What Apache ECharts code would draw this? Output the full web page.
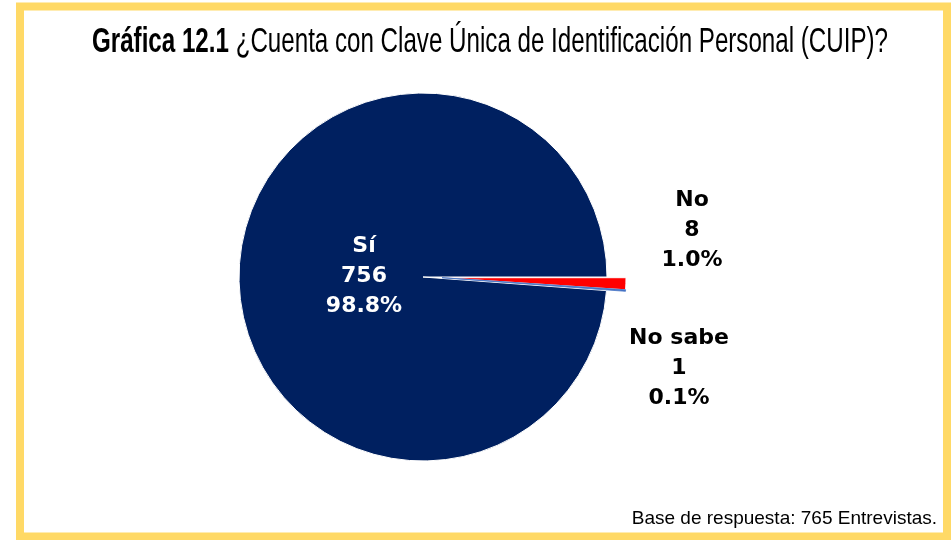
<!DOCTYPE html>
<html>
<head>
<meta charset="utf-8">
<script src="https://cdn.jsdelivr.net/npm/echarts@6/dist/echarts.min.js"></script>
<style>
  html, body { margin: 0; padding: 0; background: #fff; }
  #main { width: 951px; height: 540px; }
</style>
</head>
<body>
<div id="main"></div>
<script>
// datos de la gráfica
var categorias = ['Sí', 'No', 'No sabe'];
var valores = [756, 8, 1];
var colores = ['#002060', '#FF0000', '#4472C4'];
var total = 765;

var chart = echarts.init(document.getElementById('main'), null, { renderer: 'canvas' });

// posiciones de las etiquetas
var posEtiquetas = [[364, 276], [692, 230], [679, 368]];

function etiqueta(p) {
    return p.name + '\n' + p.value + '\n' + (p.value / total * 100).toFixed(1) + '%';
}

// serie base (Sí) y serie separada (No, No sabe)
function armarDatos(separadas) {
    var datos = [];
    for (var i = 0; i < categorias.length; i++) {
        var visible = separadas ? i > 0 : i === 0;
        var borde = 'rgba(0,0,0,0)';
        if (visible) borde = i === 2 ? colores[i] : '#fff';
        datos.push({
            name: categorias[i],
            value: valores[i],
            itemStyle: {
                color: visible ? colores[i] : 'rgba(0,0,0,0)',
                borderColor: borde,
                borderWidth: visible ? (i === 2 ? 0.8 : 1) : 0
            },
            label: {
                show: visible,
                color: i === 0 ? '#fff' : '#000'
            }
        });
    }
    return datos;
}

var serieBase = {
    type: 'pie',
    radius: 184,
    startAngle: -4.24,
    clockwise: true,
    silent: true,
    emphasis: { disabled: true },
    label: {
        position: 'inside',
        align: 'center',
        verticalAlign: 'middle',
        fontFamily: 'DejaVu Sans',
        fontWeight: 'bold',
        fontSize: 22,
        lineHeight: 30,
        formatter: etiqueta
    },
    labelLine: { show: false },
    labelLayout: function(params) {
        var pos = posEtiquetas[params.dataIndex];
        return { x: pos[0], y: pos[1], align: 'center', verticalAlign: 'middle' };
    }
};

var s1 = echarts.util.merge({ center: [423, 277], data: armarDatos(false) }, serieBase);
var s2 = echarts.util.merge({ center: [442, 277.7], data: armarDatos(true) }, serieBase);

var option = {
    animation: false,
    backgroundColor: '#fff',
    graphic: [{
        type: 'rect',
        shape: { x: 20, y: 6.5, width: 927, height: 530 },
        style: { fill: 'none', stroke: '#FFD966', lineWidth: 8 },
        silent: true
    }, {
        type: 'text',
        x: 490,
        y: 42,
        scaleX: 0.69,
        style: {
            text: '{b|Gráfica 12.1}{n| ¿Cuenta con Clave Única de Identificación Personal (CUIP)?}',
            align: 'center',
            verticalAlign: 'middle',
            rich: {
                b: { fontFamily: 'Liberation Sans', fontWeight: 'bold', fontSize: 35, fill: '#000' },
                n: { fontFamily: 'Liberation Sans', fontSize: 35, fill: '#000' }
            }
        }
    }, {
        type: 'text',
        right: 14,
        top: 509,
        style: {
            text: 'Base de respuesta: 765 Entrevistas.',
            fontFamily: 'Liberation Sans',
            fontSize: 19,
            fill: '#000'
        }
    }],
    series: [s1, s2]
};

chart.setOption(option);
</script>
</body>
</html>
